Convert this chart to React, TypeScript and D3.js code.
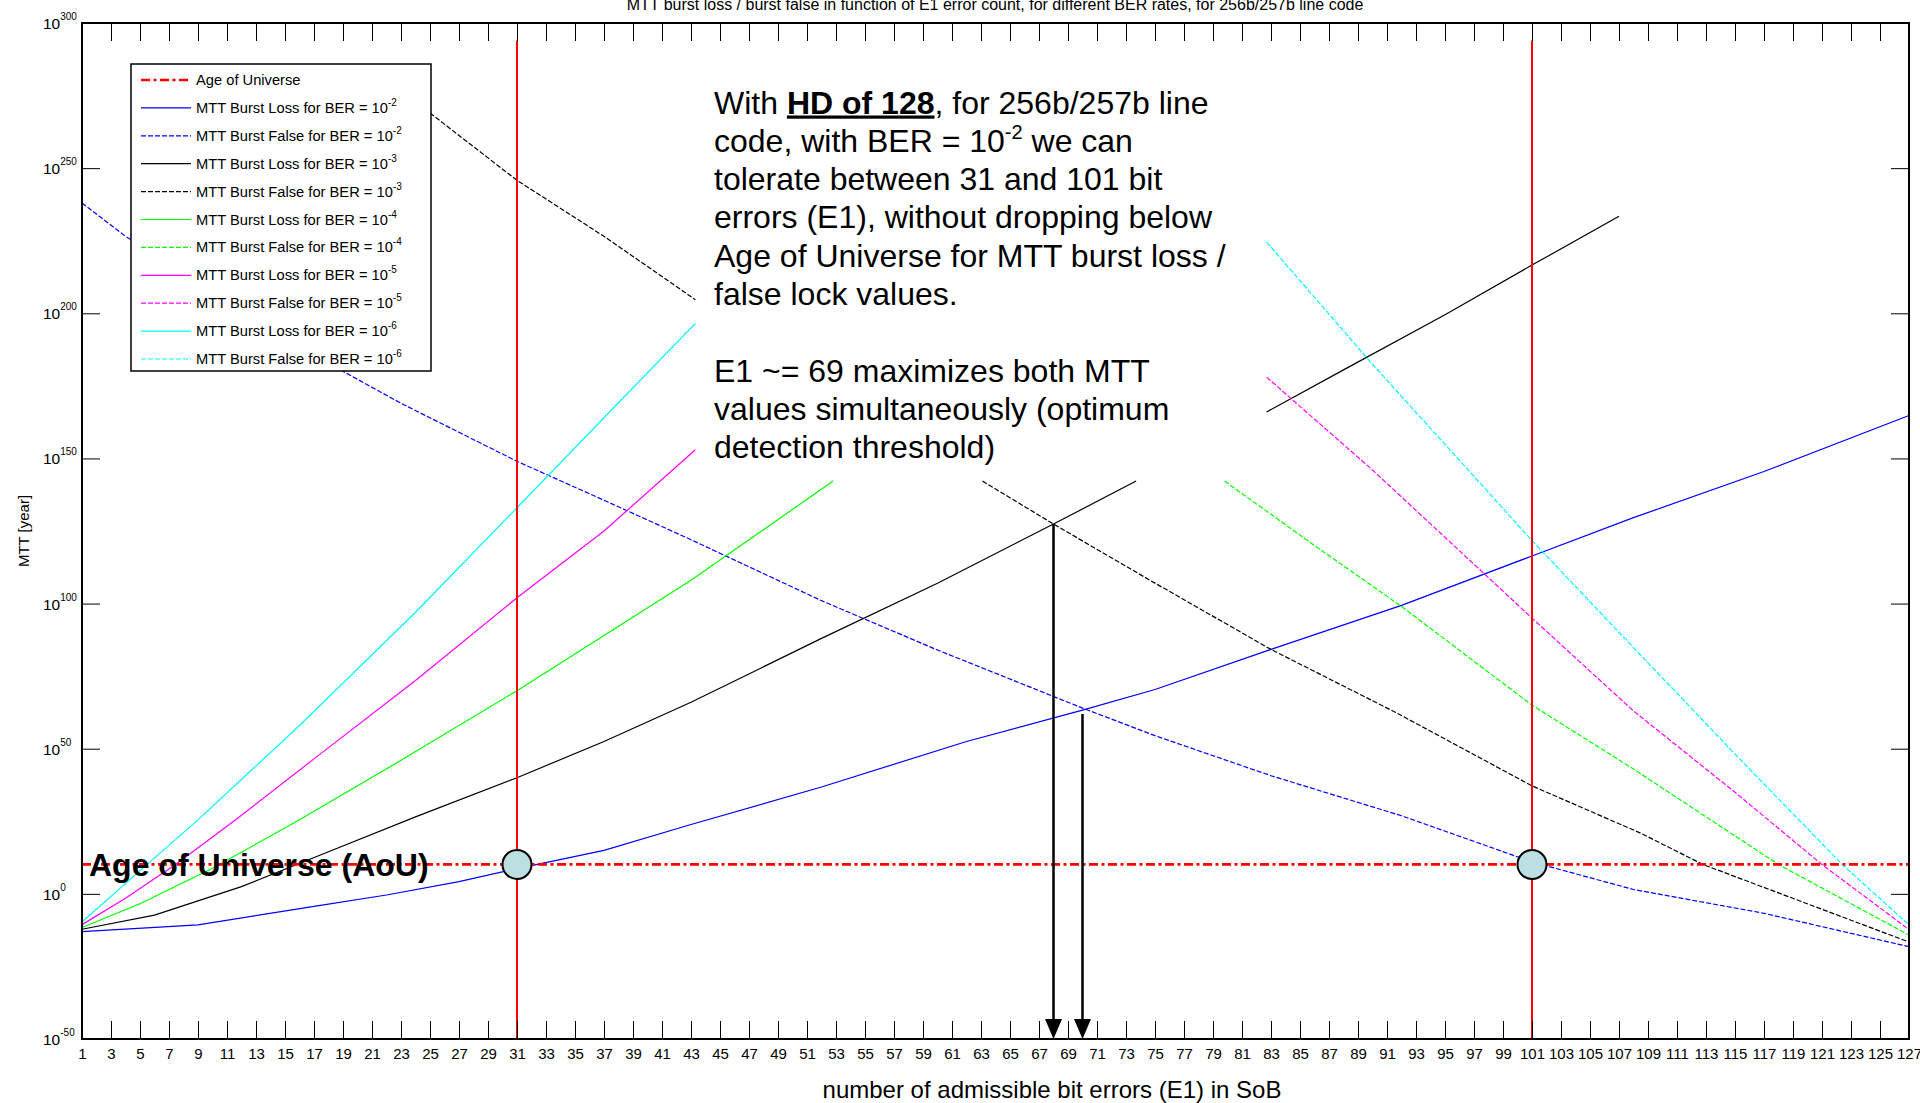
import React, { useRef, useEffect } from 'react';
import * as d3 from 'd3';

const width = 1920;
const height = 1103;
const margin = { top: 23, right: 11, bottom: 64, left: 82 };

// [E1, log10(MTT in years)]; null = hidden behind the text box
const lossBer2 = [[1, -13], [9, -10.7], [17, -4.3], [22, -0.4], [27, 4.2], [31, 8.7], [37, 15], [43, 23.9], [52, 36.8], [62, 52.5], [70, 63.3], [75, 70.4], [83, 84.2], [92, 99.4], [101, 116.4], [108, 129.6], [117, 145.5], [127, 164.8]];
const falseBer2 = [[1, 238], [4, 226.5], [19, 180], [23, 169], [27, 159], [31, 149], [37, 135.6], [43, 122], [52, 101], [60, 84], [70, 64], [75, 54.5], [83, 40.7], [92, 26.9], [101, 11], [108, 1.5], [117, -6.7], [127, -18.2]];
const lossBer3 = [[1, -12.2], [6, -7.3], [12, 2.5], [18, 14.5], [24, 26.5], [31, 40], [37, 52.5], [43, 66], [52, 88], [60, 107], [68, 127.4], [73.7, 142.2], null, [82.7, 166], [88, 180.5], [95, 199.5], [101, 216.6], [107, 233.4]];
const falseBer3 = [[25, 269], [31, 245.8], [37, 226.5], [43.3, 204.7], null, [63.1, 142.2], [68, 127.4], [74.7, 107.9], [83, 84.2], [91.6, 62.5], [101, 37.2], [108.5, 20.9], [112.8, 10.1], [127, -16.6]];
const lossBer4 = [[1, -11.6], [5, -3.4], [10, 8.8], [16, 25.5], [23, 46], [31, 70], [37, 89], [43, 108], [52.8, 142.2]];
const falseBer4 = [[79.8, 142.2], [86, 120], [92, 99], [101, 65], [108, 43], [118, 10.1], [127, -14.2]];
const lossBer5 = [[1, -10.6], [4, -1.5], [7.5, 10.3], [11.6, 25.5], [17, 46.5], [24, 73.5], [31, 102], [37, 125], [43.3, 153]];
const falseBer5 = [[82.7, 178], [90, 146], [101, 95], [108, 63], [115, 35], [121, 10.1], [127, -12.3]];
const lossBer6 = [[1, -9.7], [5, 8], [9, 25.5], [16, 58], [24, 97], [31, 133], [37, 164], [43.3, 196.5]];
const falseBer6 = [[82.7, 224.5], [89.9, 183], [101, 121.7], [108.5, 82.2], [115.3, 46.6], [122.4, 10.1], [127, -10.7]];

const ageOfUniverseExp = 10.14;
const limitE1 = [31, 101];
const limitTopExp = 294;
const optimumArrows = [[68, 127.4], [70, 62]];

const xTicks = d3.range(1, 128, 2);
const yTickExps = [-50, 0, 50, 100, 150, 200, 250, 300];

const series = [
  { data: lossBer2, color: '#0000ff', dashed: false, label: 'MTT Burst Loss for BER = 10', exp: '-2' },
  { data: falseBer2, color: '#0000ff', dashed: true, label: 'MTT Burst False for BER = 10', exp: '-2' },
  { data: lossBer3, color: '#000000', dashed: false, label: 'MTT Burst Loss for BER = 10', exp: '-3' },
  { data: falseBer3, color: '#000000', dashed: true, label: 'MTT Burst False for BER = 10', exp: '-3' },
  { data: lossBer4, color: '#00ff00', dashed: false, label: 'MTT Burst Loss for BER = 10', exp: '-4' },
  { data: falseBer4, color: '#00ff00', dashed: true, label: 'MTT Burst False for BER = 10', exp: '-4' },
  { data: lossBer5, color: '#ff00ff', dashed: false, label: 'MTT Burst Loss for BER = 10', exp: '-5' },
  { data: falseBer5, color: '#ff00ff', dashed: true, label: 'MTT Burst False for BER = 10', exp: '-5' },
  { data: lossBer6, color: '#00ffff', dashed: false, label: 'MTT Burst Loss for BER = 10', exp: '-6' },
  { data: falseBer6, color: '#00ffff', dashed: true, label: 'MTT Burst False for BER = 10', exp: '-6' },
];

const DASH = '5,2';
const DASHDOT = '9,3.5,3,3.5';
const FONT = "'Liberation Sans', Arial, Helvetica, sans-serif";

const App = () => {
  const bottomRef = useRef<SVGGElement>(null);
  const topRef = useRef<SVGGElement>(null);
  const leftRef = useRef<SVGGElement>(null);
  const rightRef = useRef<SVGGElement>(null);

  const x = d3.scaleLinear().domain([1, 127]).range([margin.left, width - margin.right]);
  const y = d3.scaleLog().domain([1e-50, 1e300]).range([height - margin.bottom, margin.top]);
  const yv = (e: number) => y(Math.pow(10, e));

  const line = d3.line<any>()
    .defined(d => d !== null)
    .x(d => x(d[0]))
    .y(d => yv(d[1]));

  useEffect(() => {
    const tickLen = -18;
    d3.select(bottomRef.current)
      .call(d3.axisBottom(x).tickValues(xTicks).tickSizeInner(tickLen).tickSizeOuter(0).tickPadding(9).tickFormat(d3.format('d')));
    d3.select(topRef.current)
      .call(d3.axisTop(x).tickValues(xTicks).tickSizeInner(tickLen).tickSizeOuter(0).tickFormat(() => ''));
    d3.select(leftRef.current)
      .call(d3.axisLeft(y).tickValues(yTickExps.map(e => Math.pow(10, e))).tickSizeInner(tickLen).tickSizeOuter(0).tickFormat(() => ''));
    d3.select(rightRef.current)
      .call(d3.axisRight(y).tickValues(yTickExps.map(e => Math.pow(10, e))).tickSizeInner(tickLen).tickSizeOuter(0).tickFormat(() => ''));

    [bottomRef, topRef, leftRef, rightRef].forEach(r => {
      const g = d3.select(r.current);
      g.select('.domain').remove();
      g.selectAll('line').attr('stroke', '#000').attr('stroke-width', 1);
      g.selectAll('text')
        .attr('font-size', 15)
        .attr('font-family', FONT)
        .attr('fill', '#000');
    });
  }, []);

  const aouY = yv(ageOfUniverseExp);
  const yBottom = height - margin.bottom;
  const legendX = 131, legendY = 64, legendW = 300, legendH = 307, rowH = 27.9;
  const textX = 714, textY0 = 113.5, lineH = 38.3;

  return (
    <svg width={width} height={height} style={{ position: 'absolute', left: 0, top: 0, display: 'block', background: '#fff' }} fontFamily={FONT}>
      <rect x={0} y={0} width={width} height={height} fill="#fff" />

      {/* curves */}
      {series.map((s, i) => (
        <path key={i} d={line(s.data) || ''} fill="none" stroke={s.color} strokeWidth={1.2}
          strokeDasharray={s.dashed ? DASH : undefined} />
      ))}

      {/* AoU line */}
      <line x1={x(1)} x2={x(127)} y1={aouY} y2={aouY} stroke="#ff0000" strokeWidth={2.6} strokeDasharray={DASHDOT} />

      {/* limits */}
      {limitE1.map(e => (
        <line key={e} x1={x(e)} x2={x(e)} y1={yv(limitTopExp)} y2={yBottom} stroke="#ff0000" strokeWidth={2} />
      ))}
      {limitE1.map(e => (
        <circle key={'c' + e} cx={x(e)} cy={aouY} r={14.5} fill="#bcdfe2" stroke="#000" strokeWidth={2} />
      ))}

      {/* optimum arrows */}
      {optimumArrows.map(([e, from]) => {
        const ax = x(e);
        return (
          <g key={e}>
            <line x1={ax} x2={ax} y1={yv(from)} y2={yBottom - 18} stroke="#000" strokeWidth={2.5} />
            <path d={`M${ax},${yBottom} L${ax - 8.5},${yBottom - 20} L${ax + 8.5},${yBottom - 20} Z`} fill="#000" />
          </g>
        );
      })}

      {/* annotation */}
      <g fontSize={32} fill="#000">
        <text x={textX} y={textY0}>With <tspan fontWeight="bold" textDecoration="underline">HD of 128</tspan>, for 256b/257b line</text>
        <text x={textX} y={textY0 + lineH}>code, with BER = 10<tspan fontSize={20} dy={-13}>-2</tspan><tspan dy={13}> we can</tspan></text>
        <text x={textX} y={textY0 + lineH * 2}>tolerate between 31 and 101 bit</text>
        <text x={textX} y={textY0 + lineH * 3}>errors (E1), without dropping below</text>
        <text x={textX} y={textY0 + lineH * 4}>Age of Universe for MTT burst loss /</text>
        <text x={textX} y={textY0 + lineH * 5}>false lock values.</text>
        <text x={textX} y={textY0 + lineH * 7}>E1 ~= 69 maximizes both MTT</text>
        <text x={textX} y={textY0 + lineH * 8}>values simultaneously (optimum</text>
        <text x={textX} y={textY0 + lineH * 9}>detection threshold)</text>
      </g>

      <text x={89} y={876} fontSize={32} fontWeight="bold" fill="#000">Age of Universe (AoU)</text>

      {/* legend */}
      <g>
        <rect x={legendX} y={legendY} width={legendW} height={legendH} fill="#fff" stroke="#000" strokeWidth={1.5} />
        <line x1={legendX + 10} x2={legendX + 60} y1={legendY + 16} y2={legendY + 16} stroke="#ff0000" strokeWidth={2.6} strokeDasharray={DASHDOT} />
        <text x={legendX + 65} y={legendY + 21} fontSize={14.7}>Age of Universe</text>
        {series.map((s, i) => {
          const ry = legendY + 16 + rowH * (i + 1);
          return (
            <g key={i}>
              <line x1={legendX + 10} x2={legendX + 60} y1={ry} y2={ry} stroke={s.color} strokeWidth={1.2}
                strokeDasharray={s.dashed ? DASH : undefined} />
              <text x={legendX + 65} y={ry + 5} fontSize={14.7}>{s.label}<tspan fontSize={10} dy={-7}>{s.exp}</tspan></text>
            </g>
          );
        })}
      </g>

      {/* axes */}
      <g ref={bottomRef} transform={`translate(0,${yBottom})`} />
      <g ref={topRef} transform={`translate(0,${margin.top})`} />
      <g ref={leftRef} transform={`translate(${margin.left},0)`} />
      <g ref={rightRef} transform={`translate(${width - margin.right},0)`} />
      <rect x={margin.left} y={margin.top} width={width - margin.left - margin.right} height={height - margin.top - margin.bottom}
        fill="none" stroke="#000" strokeWidth={2} />

      {yTickExps.map(e => (
        <text key={e} x={43} y={yv(e) + 6} fontSize={15.5} fill="#000">10<tspan fontSize={10} dy={-9}>{e}</tspan></text>
      ))}

      <text x={995} y={10} fontSize={16} textAnchor="middle" fill="#000">
        MTT burst loss / burst false in function of E1 error count, for different BER rates, for 256b/257b line code
      </text>
      <text x={1052} y={1098} fontSize={24} textAnchor="middle" fill="#000">number of admissible bit errors (E1) in SoB</text>
      <text transform={`translate(29,${(margin.top + yBottom) / 2}) rotate(-90)`} fontSize={15} textAnchor="middle" fill="#000">MTT [year]</text>
    </svg>
  );
};

export default App;
